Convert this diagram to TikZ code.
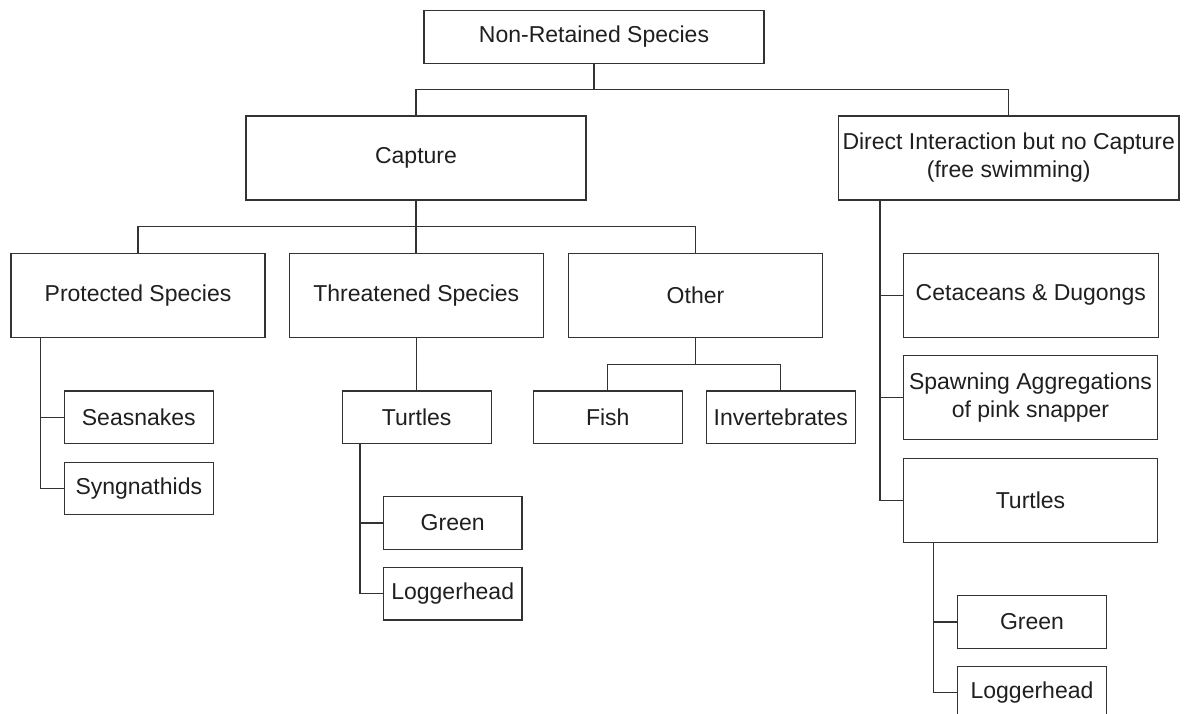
\documentclass[tikz,border=0pt]{standalone}
\usepackage{fontspec}
\setmainfont{Liberation Sans}
\begin{document}
\begin{tikzpicture}[x=1pt,y=-1pt,
  box/.style={draw=black!80, line width=1.2pt, rectangle, inner sep=0pt,
    text=black!88, align=center, font=\fontsize{23}{28}\selectfont},
  big/.style={box, minimum width=254pt, minimum height=84pt},
  small/.style={box, minimum width=149pt, minimum height=52.5pt},
  link/.style={draw=black!80, line width=1.2pt}]
\path[use as bounding box, clip] (0,0) rectangle (1186,714);
\fill[white] (0,0) rectangle (1186,714);

% top levels
\node[box, minimum width=340pt, minimum height=52.6pt] (root) at (594,37) {Non-Retained Species};
\node[box, minimum width=340pt, minimum height=84pt] (cap) at (416,158) {Capture};
\node[box, minimum width=340.7pt, minimum height=84pt] (di) at (1008.7,158)
  {Direct Interaction but no Capture\\(free swimming)};

% capture branch
\node[big] (prot) at (138,295.3) {Protected Species};
\node[big] (thr) at (416.3,295.3) {Threatened Species};
\node[big] (oth) at (695.5,295.3) {Other};
\node[small] (sea) at (138.8,417.2) {Seasnakes};
\node[small] (syn) at (138.8,488.5) {Syngnathids};
\node[small] (tturt) at (416.7,417.2) {Turtles};
\node[small] (fish) at (607.8,417.2) {Fish};
\node[small] (inv) at (780.8,417.2) {Invertebrates};
\node[small, minimum width=138.7pt] (tgreen) at (452.7,523) {Green};
\node[small, minimum width=138.7pt] (tlog) at (452.7,593.8) {Loggerhead};

% direct interaction branch
\node[big, minimum width=255pt] (cet) at (1030.8,295.3) {Cetaceans \& Dugongs};
\node[big] (spawn) at (1030.5,397.5) {Spawning Aggregations\\of pink snapper};
\node[big] (dturt) at (1030.5,500.2) {Turtles};
\node[small] (dgreen) at (1032,622) {Green};
\node[small] (dlog) at (1032,692.8) {Loggerhead};

% bus lines and spines
\coordinate (b1) at (0,89.3);
\coordinate (b2) at (0,226.7);
\coordinate (b3) at (0,364.3);
\coordinate (sp1) at (40.7,0);
\coordinate (sp2) at (360,0);
\coordinate (sp3) at (880,0);
\coordinate (sp4) at (933.3,0);

\draw[link] (root.south) -- (root.south |- b1);
\draw[link] (cap.north) |- (di.north |- b1) -- (di.north);

\draw[link] (cap.south) -- (cap.south |- thr.north);
\draw[link] (prot.north) |- (oth.north |- b2) -- (oth.north);

\draw[link] (prot.south -| sp1) |- (syn.west);
\draw[link] (sp1 |- sea.west) -- (sea.west);

\draw[link] (thr.south -| tturt.north) -- (tturt.north);
\draw[link] (tturt.south -| sp2) |- (tlog.west);
\draw[link] (sp2 |- tgreen.west) -- (tgreen.west);

\draw[link] (oth.south) -- (oth.south |- b3);
\draw[link] (fish.north) |- (inv.north |- b3) -- (inv.north);

\draw[link] (di.south -| sp3) |- (dturt.west);
\draw[link] (sp3 |- cet.west) -- (cet.west);
\draw[link] (sp3 |- spawn.west) -- (spawn.west);

\draw[link] (dturt.south -| sp4) |- (dlog.west);
\draw[link] (sp4 |- dgreen.west) -- (dgreen.west);
\end{tikzpicture}
\end{document}
